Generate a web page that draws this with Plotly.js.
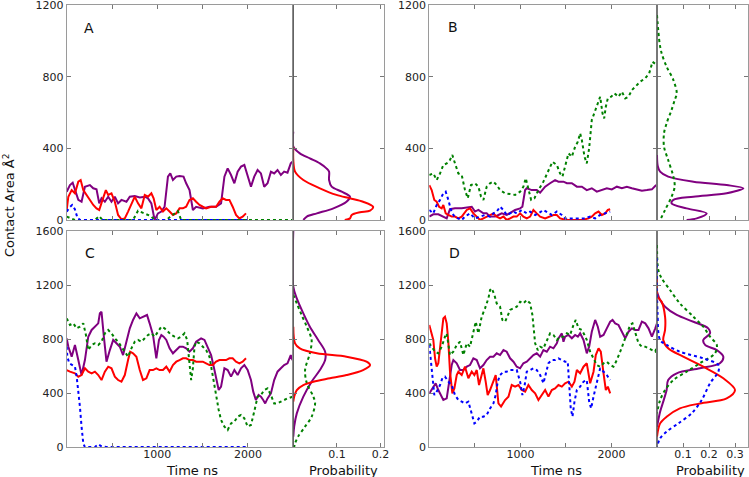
<!DOCTYPE html>
<html><head><meta charset="utf-8">
<script src="https://cdn.plot.ly/plotly-3.0.1.min.js"></script>
<style>html,body{margin:0;padding:0;background:#fff}</style>
</head><body><div id="chart" style="width:749px;height:477px"></div>
<script>
// ---------- Panel A: time series ----------
const A_purple_t = [0,36,66,91,128,164,201,256,293,329,359,384,421,458,494,531,567,604,659,696,751,806,861,897,934,970,1007,1044,1080,1117,1143,1172,1209,1245,1289,1318,1355,1392,1428,1502,1575,1648,1703,1740,1776,1813,1850,1886,1923,1960,1996,2033,2069,2106,2143,2179,2216,2253,2289,2326,2363,2399,2436,2472,2491];
const A_purple_v = [158,195,208,167,112,102,186,195,177,171,93,121,102,130,102,130,93,112,102,130,134,126,130,121,93,0,37,47,74,242,260,223,242,246,242,205,167,56,74,65,74,74,93,242,288,251,205,270,298,307,242,186,242,279,260,186,205,270,260,279,251,270,264,316,325];
const A_red_t = [0,18,55,91,128,154,183,219,256,293,329,359,395,432,458,494,531,567,604,641,677,714,751,787,824,861,897,934,959,989,1025,1062,1099,1135,1172,1209,1245,1282,1318,1355,1392,1428,1465,1502,1538,1593,1648,1685,1721,1758,1795,1831,1868,1905,1941,1978];
const A_red_v = [56,130,167,149,214,223,167,140,112,84,65,56,112,167,140,149,102,28,4,9,47,93,130,93,65,140,130,149,121,56,74,47,65,47,28,37,65,65,74,112,121,102,84,74,65,74,74,102,121,112,112,74,28,9,19,37];
const A_green_t = [0,36,91,311,359,395,732,787,861,934,970,1099,1135,1227,1263,2500];
const A_green_v = [19,10,0,0,22,0,0,52,35,20,0,0,15,50,0,0];
const A_blue_t = [0,30,60,90,120,150,1000,2000];
const A_blue_v = [47,70,84,60,10,0,0,0];

// ---------- Panel B: time series ----------
const B_purple_t = [0,44,99,154,191,227,282,356,429,466,502,539,594,630,667,722,759,795,850,905,942,997,1022,1052,1070,1125,1180,1217,1272,1326,1381,1418,1473,1510,1565,1620,1675,1729,1784,1839,1894,1949,2004,2059,2114,2169,2224,2279,2334,2389,2444,2491];
const B_purple_v = [19,32,32,19,9,60,65,65,71,74,47,56,37,37,19,19,28,37,28,47,56,65,74,167,177,167,167,153,186,205,223,214,214,205,205,186,186,167,177,158,167,177,171,186,177,186,177,171,164,167,171,195];
const B_red_t = [0,26,55,81,107,136,154,180,209,246,282,319,356,411,447,484,521,557,594,630,667,704,740,777,814,850,887,924,960,997,1033,1070,1107,1143,1180,1217,1272,1326,1363,1400,1436,1473,1528,1601,1675,1748,1784,1821,1858,1894,1931,1960,1986];
const B_red_v = [195,167,112,102,74,65,84,37,28,19,19,9,19,56,65,37,19,0,9,19,28,37,19,9,19,0,9,19,19,37,19,9,19,56,37,19,9,19,28,28,9,4,0,0,0,9,19,37,47,28,37,56,60];
const B_green_t = [0,44,81,118,154,191,227,253,282,319,356,392,422,458,502,539,568,594,630,667,704,740,777,832,887,942,997,1033,1059,1088,1118,1154,1198,1253,1308,1352,1400,1436,1462,1491,1528,1565,1601,1631,1656,1675,1704,1729,1755,1784,1821,1858,1876,1902,1920,1938,1960,1997,2033,2077,2114,2151,2187,2224,2261,2316,2371,2414,2451,2499];
const B_green_v = [251,260,223,260,307,316,335,363,316,260,251,167,121,195,205,186,130,112,186,205,214,195,167,149,145,140,158,186,233,167,112,121,167,214,279,325,307,260,242,298,372,353,409,437,484,446,353,316,400,558,614,670,688,595,567,632,679,688,707,688,716,679,688,725,744,772,791,818,883,865];
const B_blue_t = [0,44,81,118,154,180,209,238,275,319,356,392,447,502,557,612,667,704,740,777,814,850,887,924,960,1015,1070,1107,1162,1198,1253,1308,1345,1400,1455,1491,1546,1601,1656,1711,1766,1821,1876,1931,1986];
const B_blue_v = [56,37,84,112,149,158,112,56,19,9,0,19,37,9,19,28,19,37,47,74,56,28,37,47,37,56,37,47,28,37,56,37,28,47,28,9,9,9,9,9,19,9,28,37,47];

// ---------- Panel C: time series ----------
const C_purple_t = [0,18,55,91,128,164,201,238,275,311,348,366,384,410,439,476,513,549,586,622,659,696,732,769,806,842,886,915,952,989,1018,1044,1069,1099,1135,1172,1209,1245,1282,1318,1355,1392,1428,1483,1520,1557,1593,1630,1655,1677,1703,1721,1740,1776,1813,1850,1886,1923,1960,1996,2033,2058,2087,2117,2143,2168,2190,2216,2253,2289,2326,2363,2399,2436,2454,2472,2491];
const C_purple_v = [805,743,669,756,644,533,644,817,867,891,916,990,1002,817,632,718,793,768,743,681,780,879,941,990,953,965,978,916,830,657,793,830,817,793,731,694,718,743,743,731,706,731,780,805,793,731,681,570,496,422,447,521,583,570,521,570,533,583,607,570,496,410,348,385,373,348,323,360,397,496,558,583,607,620,657,681,644];
const C_red_t = [0,36,91,128,164,201,238,275,311,348,384,421,458,494,531,567,604,641,677,700,732,769,806,842,879,915,952,989,1025,1062,1099,1135,1172,1209,1245,1282,1318,1355,1392,1428,1465,1502,1538,1575,1612,1648,1685,1721,1758,1795,1831,1868,1905,1941,1978];
const C_red_v = [570,558,546,521,533,583,558,546,558,533,496,558,595,583,521,496,484,533,644,706,694,669,570,496,509,570,570,583,570,570,595,558,607,632,644,657,657,644,644,632,632,632,620,607,607,632,644,644,644,657,657,632,620,632,657];
const C_green_t = [0,36,73,110,146,183,212,238,275,311,348,384,421,458,494,531,567,604,641,677,714,751,787,824,861,897,934,970,1007,1044,1080,1117,1154,1190,1227,1263,1300,1329,1355,1373,1392,1410,1428,1465,1502,1538,1575,1612,1648,1677,1703,1740,1776,1813,1850,1886,1923,1960,1996,2033,2069,2106,2143,2179,2216,2253,2289,2326,2363,2399,2436,2495];
const C_green_v = [953,904,916,879,891,916,830,718,756,768,756,780,842,867,842,805,780,743,706,669,731,780,793,780,805,830,842,817,854,891,879,854,830,817,805,817,842,793,644,496,583,743,780,768,743,718,669,521,373,274,200,151,126,175,188,225,237,212,151,163,262,373,385,422,434,385,323,323,336,348,360,373];
const C_blue_t = [0,7,29,55,91,110,128,146,164,183,201,311,348,384,439,1000,1500,2000];
const C_blue_v = [743,669,620,607,595,521,422,298,151,25,0,0,20,5,0,0,0,0];

// ---------- Panel D: time series ----------
const D_purple_t = [0,44,70,99,128,154,191,216,246,264,301,337,374,411,447,484,521,557,594,630,667,704,740,777,814,850,887,924,960,997,1033,1070,1107,1143,1180,1217,1253,1290,1326,1363,1400,1418,1455,1473,1491,1528,1565,1601,1631,1656,1693,1729,1755,1784,1821,1850,1876,1913,1949,1986,2012,2041,2077,2114,2151,2187,2224,2261,2297,2334,2371,2407,2444,2481,2500];
const D_purple_v = [397,447,472,422,385,348,360,459,607,644,620,570,570,595,607,657,644,583,607,644,669,669,694,681,718,706,657,632,595,583,620,632,657,681,694,669,718,706,743,731,768,805,842,780,817,830,805,830,817,842,793,694,743,854,941,891,817,830,879,928,941,916,904,854,805,854,879,867,867,928,916,879,817,879,916];
const D_red_t = [0,44,63,81,99,118,136,154,172,191,209,227,253,275,301,319,356,392,429,466,495,521,546,575,594,619,641,667,704,729,759,788,832,869,905,942,978,1015,1052,1088,1125,1162,1198,1235,1272,1308,1345,1381,1418,1455,1491,1528,1565,1594,1620,1656,1693,1729,1766,1803,1828,1858,1883,1913,1938,1960,1986];
const D_red_v = [904,793,657,595,620,731,879,953,965,916,780,558,397,434,533,558,533,595,509,558,533,570,459,546,583,484,385,422,496,533,323,299,348,373,459,447,459,422,410,459,422,397,348,385,422,373,422,434,459,447,472,484,447,484,570,546,595,620,472,558,681,731,706,546,422,447,397];
const D_green_t = [0,63,99,136,172,191,227,264,301,337,374,411,447,484,510,539,575,612,649,667,685,715,740,777,802,832,850,887,924,960,997,1033,1070,1107,1132,1162,1191,1217,1253,1290,1326,1363,1400,1436,1473,1510,1546,1583,1608,1638,1675,1704,1729,1766,1803,1839,1876,1913,1949,1986,2022,2059,2096,2132,2169,2206,2231,2261,2297,2334,2371,2407,2444,2481,2500];
const D_green_v = [768,706,694,743,817,842,681,706,756,780,681,768,743,867,928,842,965,1027,1101,1163,1175,1126,1064,1039,941,928,953,1015,1027,1039,1076,1064,1089,1064,978,768,718,743,731,793,842,830,793,817,817,842,830,904,941,879,867,830,793,706,657,607,595,620,632,607,595,644,706,768,842,904,916,842,768,743,743,731,718,706,743];
const D_blue_t = [0,33,55,81,118,143,172,209,246,282,319,356,392,429,466,495,521,557,594,630,667,704,729,751,777,814,850,887,924,960,997,1022,1044,1070,1107,1143,1180,1217,1253,1279,1308,1345,1381,1418,1455,1491,1520,1535,1553,1572,1594,1620,1656,1693,1729,1755,1777,1803,1839,1876,1913,1949,1986];
const D_blue_v = [756,533,385,410,459,509,521,484,459,385,348,336,323,336,237,175,188,225,225,237,286,323,385,484,533,558,558,570,570,570,484,385,447,558,570,583,570,533,472,533,620,644,644,657,644,632,632,484,286,225,336,422,447,484,496,336,286,373,484,583,558,533,496];

// ---------- Probability distributions (probability, contact area) ----------
const pA_purple_p = [0,0,0.015,0.038,0.061,0.076,0.082,0.082,0.088,0.111,0.130,0.122,0.092,0.054,0.031,0.023];
const pA_purple_v = [493,409,372,344,316,288,270,223,186,158,130,102,65,37,19,0];
const pA_red_p = [0,0,0.004,0.023,0.061,0.099,0.130,0.160,0.183,0.176,0.153,0.134,0.130,0.118];
const pA_red_v = [409,335,270,223,177,140,121,102,74,52,43,28,9,0];

const pB_purple_p = [0,0.003,0.012,0.043,0.14,0.268,0.332,0.268,0.14,0.063,0.056,0.114,0.191,0.153,0.114];
const pB_purple_v = [363,300,270,242,214,195,177,149,130,112,93,65,37,9,0];
const pB_green_p = [0,0.01,0.018,0.037,0.063,0.076,0.068,0.056,0.037,0.027,0.027,0.043,0.063,0.068,0.056,0.031,0.012];
const pB_green_v = [1144,987,930,856,781,707,670,614,540,484,409,335,242,186,130,56,0];

const pC_purple_p = [0,0,0.008,0.023,0.038,0.057,0.073,0.073,0.061,0.042,0.023,0.008,0.002,0];
const pC_purple_v = [1600,1187,1101,990,891,793,706,644,570,484,373,249,151,77];
const pC_green_p = [0,0.008,0.019,0.031,0.042,0.038,0.027,0.031,0.046,0.050,0.042,0.027,0.011,0.004,0.002];
const pC_green_v = [1126,1064,978,891,793,694,570,472,373,323,224,151,77,27,0];
const pC_red_p = [0,0.004,0.015,0.054,0.122,0.168,0.176,0.160,0.122,0.084,0.046,0.023,0.008,0.002,0];
const pC_red_v = [891,768,731,694,669,632,607,570,533,509,484,459,422,373,336];

const pD_purple_p = [0,0.012,0.031,0.076,0.140,0.197,0.204,0.178,0.185,0.230,0.255,0.242,0.165,0.076,0.043,0.037,0.024,0.012,0];
const pD_purple_v = [1150,1089,1039,978,928,879,842,793,756,718,669,620,583,546,496,422,336,262,150];
const pD_red_p = [0,0.003,0.018,0.031,0.031,0.024,0.043,0.101,0.178,0.255,0.300,0.268,0.165,0.088,0.037,0.012,0];
const pD_red_v = [1262,1113,1076,965,867,793,731,669,595,509,422,360,323,286,224,175,77];
const pD_green_p = [0,0.005,0.018,0.05,0.088,0.140,0.178,0.204,0.230,0.223,0.165,0.114,0.063,0.031,0.012,0];
const pD_green_v = [1496,1311,1250,1163,1064,965,891,817,756,694,620,558,496,422,348,250];
const pD_blue_p = [0,0.002,0.012,0.037,0.088,0.178,0.236,0.236,0.204,0.172,0.133,0.082,0.037,0.012,0];
const pD_blue_v = [1400,1000,793,756,706,657,607,558,472,348,249,175,114,64,0];

// ---------- Labels / ticks ----------
const panelLabels = ['A','B','C','D'];
const timeTickVals = [1000,2000];
const yTopTicks = [0,400,800,1200];
const yBotTicks = [0,400,800,1200,1600];
const probTicksAC = [0.1,0.2];
const probTicksBD = [0.1,0.2,0.3];

const PURPLE='#800080', RED='#ff0000', GREEN='#008000', BLUE='#0000ff';

function ts(x, y, color, dotted, xa, ya, smooth){
  return {type:'scatter', mode:'lines', x:x, y:y, xaxis:xa, yaxis:ya, hoverinfo:'skip',
    line:{color:color, width:2, dash: dotted ? 'dot' : 'solid', shape: smooth ? 'spline' : 'linear', smoothing: smooth ? 0.9 : 0}};
}

const traces = [
  ts(A_purple_t, A_purple_v, PURPLE, false, 'x', 'y'),
  ts(A_red_t, A_red_v, RED, false, 'x', 'y'),
  ts(A_green_t, A_green_v, GREEN, true, 'x', 'y'),
  ts(A_blue_t, A_blue_v, BLUE, true, 'x', 'y'),
  ts(pA_purple_p, pA_purple_v, PURPLE, false, 'x2', 'y2', true),
  ts(pA_red_p, pA_red_v, RED, false, 'x2', 'y2', true),

  ts(B_purple_t, B_purple_v, PURPLE, false, 'x3', 'y3'),
  ts(B_red_t, B_red_v, RED, false, 'x3', 'y3'),
  ts(B_green_t, B_green_v, GREEN, true, 'x3', 'y3'),
  ts(B_blue_t, B_blue_v, BLUE, true, 'x3', 'y3'),
  ts(pB_purple_p, pB_purple_v, PURPLE, false, 'x4', 'y4', true),
  ts(pB_green_p, pB_green_v, GREEN, true, 'x4', 'y4', true),

  ts(C_purple_t, C_purple_v, PURPLE, false, 'x5', 'y5'),
  ts(C_red_t, C_red_v, RED, false, 'x5', 'y5'),
  ts(C_green_t, C_green_v, GREEN, true, 'x5', 'y5'),
  ts(C_blue_t, C_blue_v, BLUE, true, 'x5', 'y5'),
  ts(pC_purple_p, pC_purple_v, PURPLE, false, 'x6', 'y6', true),
  ts(pC_green_p, pC_green_v, GREEN, true, 'x6', 'y6', true),
  ts(pC_red_p, pC_red_v, RED, false, 'x6', 'y6', true),

  ts(D_purple_t, D_purple_v, PURPLE, false, 'x7', 'y7'),
  ts(D_red_t, D_red_v, RED, false, 'x7', 'y7'),
  ts(D_green_t, D_green_v, GREEN, true, 'x7', 'y7'),
  ts(D_blue_t, D_blue_v, BLUE, true, 'x7', 'y7'),
  ts(pD_purple_p, pD_purple_v, PURPLE, false, 'x8', 'y8', true),
  ts(pD_red_p, pD_red_v, RED, false, 'x8', 'y8', true),
  ts(pD_green_p, pD_green_v, GREEN, true, 'x8', 'y8', true),
  ts(pD_blue_p, pD_blue_v, BLUE, true, 'x8', 'y8', true)
];

const W=749, H=477;
const dx = (a,b) => [a/W, b/W];
const dy = (top,bottom) => [1-bottom/H, 1-top/H];
const FONT = 'DejaVu Sans, Verdana, sans-serif';
const base = {showline:true, linecolor:'#9a9a9a', linewidth:1, mirror:'ticks', ticks:'inside', ticklen:4,
  tickcolor:'#777', tickwidth:1, showgrid:false, zeroline:false, fixedrange:true,
  ticklabeloverflow:'allow', tickfont:{family:FONT, size:11, color:'#222'}};
const ax = (o) => Object.assign({}, base, o);
const timeMinor = {dtick:500, tick0:0, ticks:'inside', ticklen:4, tickcolor:'#777', showgrid:false};
const xLab = {ticklabelstandoff:-3};

const mainL = dx(66.7, 293.3), probL = dx(293.3, 384);
const mainR = dx(429.3, 657), probR = dx(657, 748);
const rowT = dy(5, 220), rowB = dy(231, 447);

const layout = {
  width:W, height:H, margin:{l:0,r:0,t:0,b:0}, showlegend:false,
  paper_bgcolor:'#fff', plot_bgcolor:'#fff',
  xaxis:  ax({domain:mainL, range:[0,2500], anchor:'y',  tickvals:timeTickVals, minor:timeMinor, showticklabels:false}),
  yaxis:  ax({domain:rowT, range:[0,1200], anchor:'x',  tickvals:yTopTicks}),
  xaxis2: ax({domain:probL, range:[0,0.208], anchor:'y2', tickvals:probTicksAC, showticklabels:false}),
  yaxis2: ax({domain:rowT, range:[0,1200], anchor:'x2', tickvals:yTopTicks, showticklabels:false}),
  xaxis3: ax({domain:mainR, range:[0,2500], anchor:'y3', tickvals:timeTickVals, minor:timeMinor, showticklabels:false}),
  yaxis3: ax({domain:rowT, range:[0,1200], anchor:'x3', tickvals:yTopTicks}),
  xaxis4: ax({domain:probR, range:[0,0.35], anchor:'y4', tickvals:probTicksBD, showticklabels:false}),
  yaxis4: ax({domain:rowT, range:[0,1200], anchor:'x4', tickvals:yTopTicks, showticklabels:false}),
  xaxis5: ax(Object.assign({domain:mainL, range:[0,2500], anchor:'y5', tickvals:timeTickVals, minor:timeMinor}, xLab)),
  yaxis5: ax({domain:rowB, range:[0,1600], anchor:'x5', tickvals:yBotTicks}),
  xaxis6: ax(Object.assign({domain:probL, range:[0,0.208], anchor:'y6', tickvals:probTicksAC, ticktext:probTicksAC.map(String)}, xLab)),
  yaxis6: ax({domain:rowB, range:[0,1600], anchor:'x6', tickvals:yBotTicks, showticklabels:false}),
  xaxis7: ax(Object.assign({domain:mainR, range:[0,2500], anchor:'y7', tickvals:timeTickVals, minor:timeMinor}, xLab)),
  yaxis7: ax({domain:rowB, range:[0,1600], anchor:'x7', tickvals:yBotTicks}),
  xaxis8: ax(Object.assign({domain:probR, range:[0,0.35], anchor:'y8', tickvals:probTicksBD, ticktext:probTicksBD.map(String)}, xLab)),
  yaxis8: ax({domain:rowB, range:[0,1600], anchor:'x8', tickvals:yBotTicks, showticklabels:false}),
  shapes: ['2','4','6','8'].map(n => ({type:'line', xref:'x'+n+' domain', yref:'y'+n+' domain',
     x0:0, x1:0, y0:0, y1:1, line:{color:'#555', width:1}})),
  annotations: [
    {text:panelLabels[0], x:89/W, y:1-28/H},
    {text:panelLabels[1], x:453/W, y:1-27/H},
    {text:panelLabels[2], x:90/W, y:1-253/H},
    {text:panelLabels[3], x:454/W, y:1-253/H},
  ].map(a => Object.assign(a, {xref:'paper', yref:'paper', showarrow:false, xanchor:'center', yanchor:'middle',
      font:{family:FONT, size:14, color:'#111'}})).concat([
    {text:'Time ns', x:192/W, y:1-470/H},
    {text:'Time ns', x:556/W, y:1-470/H},
    {text:'Probability', x:343/W, y:1-470/H},
    {text:'Probability', x:710/W, y:1-470/H},
  ].map(a => Object.assign(a, {xref:'paper', yref:'paper', showarrow:false, xanchor:'center', yanchor:'middle',
      font:{family:FONT, size:13, color:'#111'}}))).concat([
    {text:'Contact Area Å<sup>2</sup>', x:9/W, y:1-206/H, textangle:-90, xref:'paper', yref:'paper',
     showarrow:false, xanchor:'center', yanchor:'middle', font:{family:FONT, size:13, color:'#111'}}
  ])
};

Plotly.newPlot('chart', traces, layout, {staticPlot:true, displayModeBar:false});
</script></body></html>
